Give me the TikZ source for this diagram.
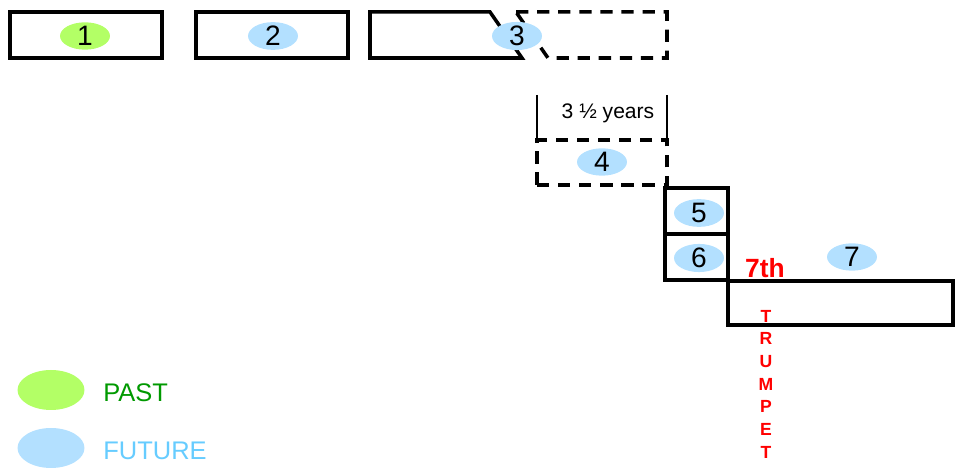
\documentclass[tikz,border=0pt]{standalone}
\usepackage{fontspec}
\setmainfont{Liberation Sans}
\usetikzlibrary{shapes.geometric}
\definecolor{pastfill}{HTML}{B3FF66}
\definecolor{futurefill}{HTML}{B3E0FF}
\definecolor{pasttext}{HTML}{009900}
\definecolor{futuretext}{HTML}{66CCFF}
\begin{document}
\begin{tikzpicture}[x=0.02cm, y=-0.02cm,
        period/.style={draw, line width=2pt, inner sep=0pt, minimum width=3.04cm, minimum height=0.92cm},
        hidden/.style={period, dashed, dash pattern=on 7pt off 5pt},
        seal/.style={ellipse, inner sep=0pt, minimum width=1.0cm, minimum height=0.48cm, font=\fontsize{16}{18}\selectfont},
        past/.style={seal, fill=pastfill},
        future/.style={seal, fill=futurefill},
        legend/.style={ellipse, inner sep=0pt, minimum width=1.34cm, minimum height=0.8cm},
        legendtext/.style={anchor=west, inner sep=0pt, font=\fontsize{14.5}{17}\selectfont},
        trumpet/.style={text=red, font=\bfseries\fontsize{10}{12}\selectfont}]
    \useasboundingbox (0,0) rectangle (958,472);
    % first three periods
    \node[period] (box1) at (86,35) {};
    \node[period] (box2) at (272,35) {};
    \draw[line width=2pt] (490,12) -- (370,12) -- (370,58) -- (522,58) -- cycle;
    \draw[line width=2pt, dashed, dash pattern=on 7pt off 5pt] (516,12) -- (667,12) -- (667,58) -- (548,58) -- cycle;
    \node[past] (e1) at (85,36) {1};
    \node[future] (e2) at (273,36) {2};
    \node[future] (e3) at (517,36) {3};
    % three and a half years
    \coordinate (bl) at (537,95);
    \coordinate (br) at (667,95);
    \draw[line width=0.6pt] (bl) -- (537,140);
    \draw[line width=0.6pt] (br) -- (667,140);
    \node[font=\fontsize{12}{14}\selectfont] (half) at (608,113) {3 ½ years};
    \node[hidden, minimum width=2.6cm, minimum height=0.9cm] (box4) at (602,162.5) {};
    \node[future] (e4) at (602,162) {4};
    % last three
    \node[period, minimum width=1.26cm] (box5) at (696.5,211) {};
    \node[period, minimum width=1.26cm] (box6) at (696.5,257) {};
    \node[period, minimum width=4.5cm, minimum height=0.88cm] (box7) at (840.5,303) {};
    \node[future] (e5) at (699,213) {5};
    \node[future] (e6) at (699,258) {6};
    \node[future] (e7) at (852,257) {7};
    \node[text=red, font=\bfseries\fontsize{15}{17}\selectfont] (seventh) at (765,268) {7th};
    \foreach \ch [count=\i from 0] in {T,R,U,M,P,E,T}
        \node[trumpet] (t\i) at (766,316+22.67*\i) {\ch};
    % legend
    \node[legend, fill=pastfill] (lp) at (51,390) {};
    \node[legendtext, text=pasttext] (lpt) at (103,393) {PAST};
    \node[legend, fill=futurefill] (lf) at (51,448) {};
    \node[legendtext, text=futuretext] (lft) at (103,451) {FUTURE};
\end{tikzpicture}
\end{document}
